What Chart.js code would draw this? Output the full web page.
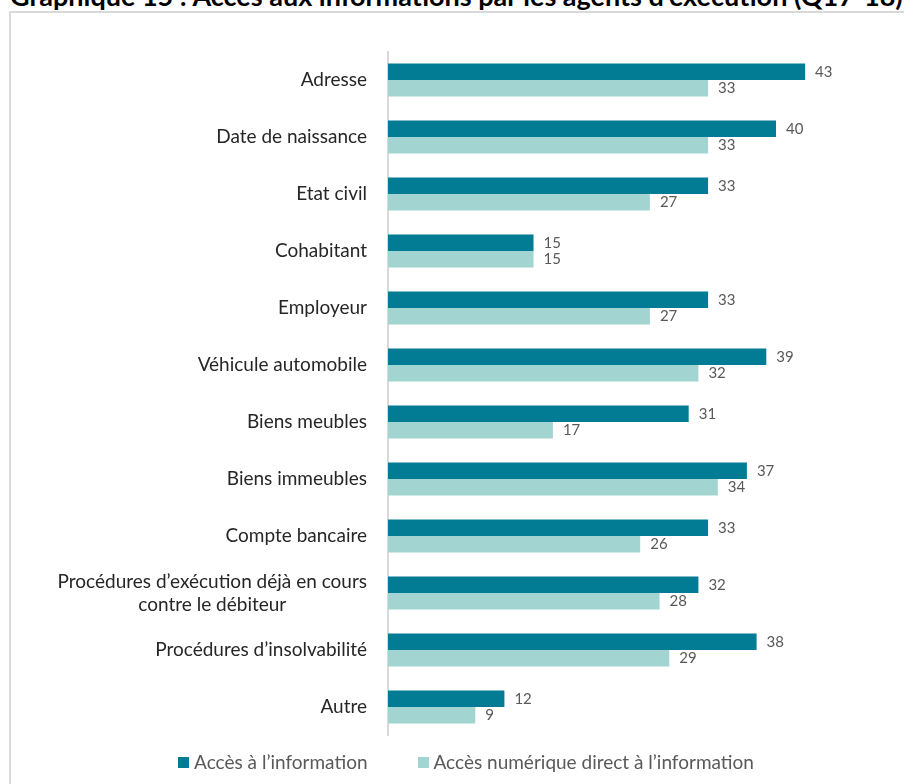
<!DOCTYPE html>
<html lang="fr">
<head>
  <meta charset="utf-8" />
  <title>Graphique 15 : Accès aux informations par les agents d'exécution</title>
  <style>
    body { margin: 0; width: 904px; height: 784px; overflow: hidden; background: #fff; font-family: Lato, "Open Sans", sans-serif; position: relative; }
    .titre {
      position: absolute; left: 10px; top: -18px;
      font-size: 27px; font-weight: bold; color: #000; white-space: nowrap; line-height: 27px;
    }
    .cadre {
      position: absolute; left: 9px; top: 11px; width: 1000px; height: 1000px;
      border: 2px solid #d9d9d9;
    }
    #graph { position: absolute; left: 0; top: 0; }
    .legende {
      position: absolute; left: 0; top: 750px; width: 932px; height: 24px;
      display: flex; justify-content: center; align-items: center; gap: 50px;
      font-size: 19px; color: #595959; line-height: 24px;
    }
    .legende span.item { display: flex; align-items: center; gap: 5px; }
    .legende span.carre { display: inline-block; width: 11px; height: 11px; }
  </style>
</head>
<body>
  <div class="titre">Graphique 15 : Accès aux informations par les agents d’exécution (Q17-18)</div>
  <div class="cadre"></div>
  <canvas id="graph" width="932" height="784"></canvas>
  <div class="legende" id="legende"></div>

  <script src="https://cdn.jsdelivr.net/npm/chart.js@4.4.4/dist/chart.umd.min.js"></script>
  <script>
    const categories = [
      'Adresse',
      'Date de naissance',
      'Etat civil',
      'Cohabitant',
      'Employeur',
      'Véhicule automobile',
      'Biens meubles',
      'Biens immeubles',
      'Compte bancaire',
      ['Procédures d’exécution déjà en cours', 'contre le débiteur'],
      'Procédures d’insolvabilité',
      'Autre'
    ];
    const series = ['Accès à l’information', 'Accès numérique direct à l’information'];
    const acces = [43, 40, 33, 15, 33, 39, 31, 37, 33, 32, 38, 12];
    const accesNumerique = [33, 33, 27, 15, 27, 32, 17, 34, 26, 28, 29, 9];
    const couleurs = ['#027b95', '#a2d5d2'];

    // étiquettes de catégories : bloc aligné à droite, lignes centrées entre elles
    const etiquettesCategories = {
      id: 'etiquettesCategories',
      afterDraw(chart) {
        const ctx = chart.ctx;
        const y = chart.scales.y;
        ctx.save();
        ctx.font = '19px Lato';
        ctx.fillStyle = '#262626';
        ctx.textAlign = 'center';
        ctx.textBaseline = 'middle';
        categories.forEach((label, i) => {
          const lignes = [].concat(label);
          const w = Math.max(...lignes.map(l => ctx.measureText(l).width));
          const cx = chart.chartArea.left - 21 - w / 2;
          const cy = y.getPixelForTick(i);
          lignes.forEach((l, k) => ctx.fillText(l, cx, cy + (k - (lignes.length - 1) / 2) * 23));
        });
        ctx.restore();
      }
    };

    // valeurs au bout des barres
    const valeurs = {
      id: 'valeurs',
      afterDatasetsDraw(chart) {
        const ctx = chart.ctx;
        ctx.save();
        ctx.font = '15px Lato';
        ctx.fillStyle = '#595959';
        ctx.textAlign = 'left';
        ctx.textBaseline = 'middle';
        chart.data.datasets.forEach((ds, i) => {
          chart.getDatasetMeta(i).data.forEach((bar, j) => {
            ctx.fillText(ds.data[j], bar.x + 10, bar.y);
          });
        });
        ctx.restore();
      }
    };

    const chart = new Chart(document.getElementById('graph'), {
      type: 'bar',
      data: {
        labels: categories,
        datasets: [
          { label: series[0], data: acces, backgroundColor: couleurs[0] },
          { label: series[1], data: accesNumerique, backgroundColor: couleurs[1] }
        ]
      },
      options: {
        indexAxis: 'y',
        responsive: false,
        animation: false,
        devicePixelRatio: 1,
        layout: { padding: { top: 51.5, bottom: 48.5, right: 59, left: 0 } },
        datasets: { bar: { categoryPercentage: 0.58, barPercentage: 1 } },
        scales: {
          x: { display: false, min: 0, max: 50 },
          y: {
            ticks: { display: false },
            grid: { display: false },
            border: { display: true, color: '#d9d9d9', width: 2 },
            afterFit(scale) { scale.width = 388; }
          }
        },
        plugins: {
          legend: { display: false },
          tooltip: { enabled: false }
        }
      },
      plugins: [etiquettesCategories, valeurs]
    });

    // légende en HTML sous le graphique
    const legende = document.getElementById('legende');
    series.forEach((nom, i) => {
      const item = document.createElement('span');
      item.className = 'item';
      item.innerHTML = `<span class="carre" style="background:${couleurs[i]}"></span>${nom}`;
      legende.appendChild(item);
    });
  </script>
</body>
</html>
